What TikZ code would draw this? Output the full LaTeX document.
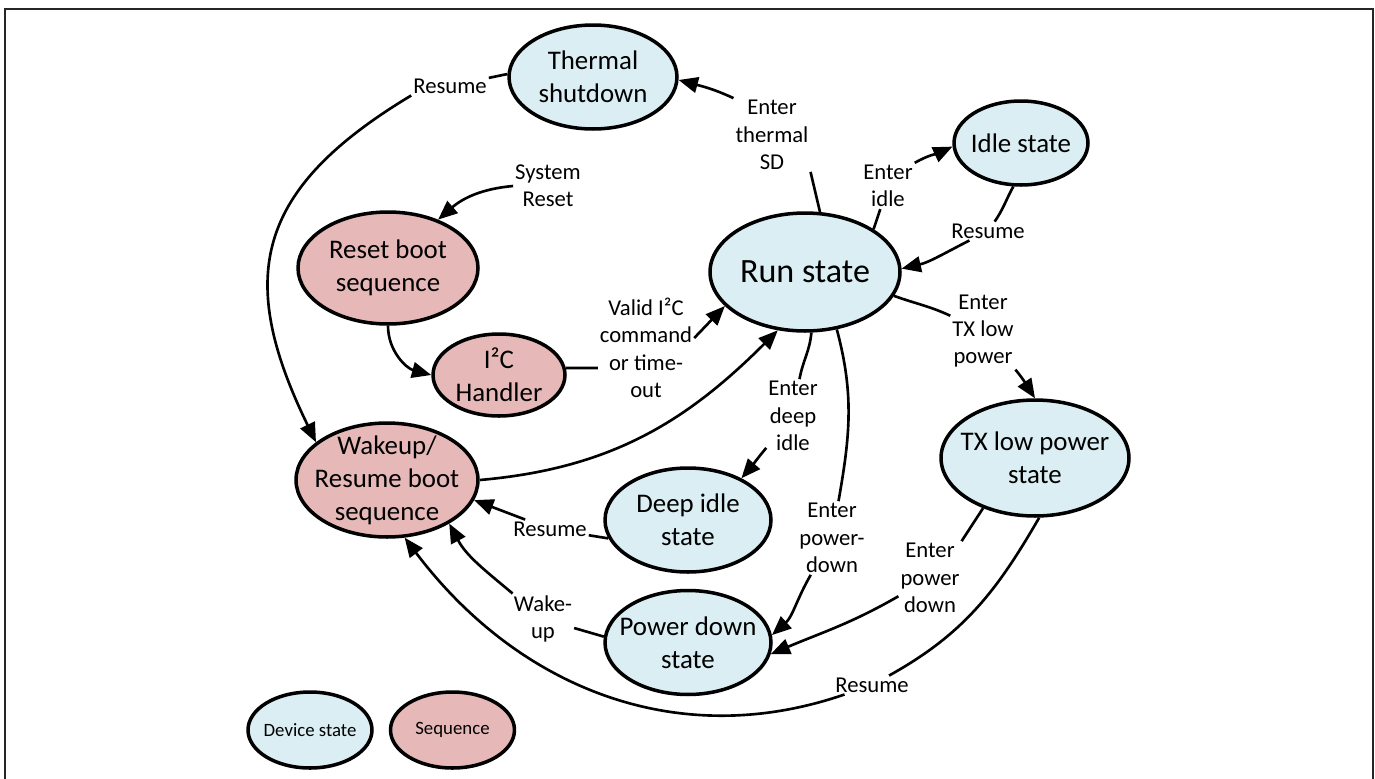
\documentclass[tikz,border=0pt]{standalone}
\usepackage{fontspec}
\setmainfont{Carlito}
\usepackage{tikz}
\usetikzlibrary{shapes,arrows.meta,calc,positioning}
\definecolor{stateblue}{HTML}{DAEEF3}
\definecolor{seqred}{HTML}{E6B9B8}
\tikzstyle{state} = [ellipse, draw, line width=2pt, fill=stateblue, inner sep=-12pt, align=center, font=\fontsize{15.3}{18.8}\selectfont]
\tikzstyle{seq} = [state, fill=seqred]
\tikzstyle{lbl} = [align=center, inner sep=1pt, font=\fontsize{12.9}{15.6}\selectfont]
\tikzstyle{line} = [draw, line width=1.5pt, -{Triangle[length=11pt,width=9pt]}]
\tikzstyle{legend} = [state, minimum width=2.48cm, minimum height=1.52cm, font=\fontsize{10.7}{13}\selectfont]

\begin{document}
\begin{tikzpicture}[x=0.02cm, y=0.02cm]
\useasboundingbox (0,0) rectangle (1375,-778);
\draw [line width=0.8pt, black!85] (5,-9) rectangle (1373,-800);

% states and sequences
\node [state, minimum width=3.36cm, minimum height=2.08cm] (thermal) at (593,-77) {Thermal\\shutdown};
\node [seq, minimum width=3.6cm, minimum height=2.24cm] (reset) at (388,-268) {Reset boot\\sequence};
\node [seq, minimum width=2.64cm, minimum height=1.64cm] (i2c) at (499,-375) {I²C\\Handler};
\node [state, minimum width=3.8cm, minimum height=2.36cm, font=\fontsize{19.4}{23}\selectfont] (run) at (805,-272) {Run state};
\node [state, minimum width=2.68cm, minimum height=1.68cm] (idle) at (1021,-143) {Idle state};
\node [state, minimum width=3.76cm, minimum height=2.32cm] (tx) at (1035,-458) {TX low power\\state};
\node [seq, minimum width=3.64cm, minimum height=2.28cm] (wakeup) at (387,-480) {Wakeup/\\Resume boot\\sequence};
\node [state, minimum width=3.32cm, minimum height=2.08cm] (deepidle) at (688,-520) {Deep idle\\state};
\node [state, minimum width=3.32cm, minimum height=2.08cm, below=0.3cm of deepidle] (powerdown) {Power down\\state};

% legend
\node [legend] (legdev) at (310,-730) {Device state};
\node [legend, fill=seqred, right=0.3cm of legdev] (legseq) {Sequence};

% edge labels
\node [lbl] (lblThRes) at (450,-86) {Resume};
\node [lbl] (lblSys) at (548,-186) {System\\Reset};
\node [lbl] (lblValid) at (646,-348) {Valid I²C\\command\\or time-\\out};
\node [lbl] (lblEnTh) at (772,-135) {Enter\\thermal\\SD};
\node [lbl] (lblEnIdle) at (888,-186) {Enter\\idle};
\node [lbl] (lblIdRes) at (988,-231) {Resume};
\node [lbl] (lblEnTX) at (983,-331) {Enter\\TX low\\power};
\node [lbl] (lblEnDeep) at (793,-416) {Enter\\deep\\idle};
\node [lbl] (lblEnPD) at (832,-538) {Enter\\power-\\down};
\node [lbl] (lblTxPD) at (930,-578) {Enter\\power\\down};
\node [lbl] (lblTxRes) at (872,-685) {Resume};
\node [lbl] (lblDpRes) at (550,-529) {Resume};
\node [lbl] (lblWake) at (543,-619) {Wake-\\up};

% transitions
\path [line] (thermal.178) -- (lblThRes) (lblThRes.south west) to[out=211,in=116,looseness=1.3] (wakeup.152);
\path [line] (lblSys.west) to[out=185,in=41] (reset.44);
\path [line] (reset.south) to[out=-90,in=165] (i2c.180);
\path [line] (i2c.6) -- (i2c.6 -| lblValid.west) ($(lblValid.east)+(0,10)$) -- (run.203);
\path [line] (run.76) -- (lblEnTh.south east) (lblEnTh.north west) to[out=155,in=-15] (thermal.-2);
\path [line] (run.32) -- (lblEnIdle) (lblEnIdle.north east) to[out=30,in=205] (idle.183);
\path [line] (idle.-100) to[out=-119,in=55] (lblIdRes) to[out=-153,in=13] (run.2);
\path [line] (run.-15) to[out=-20,in=155] (lblEnTX) to[out=-50,in=123] (tx.north);
\path [line] (run.-84) to[out=-95,in=80] (lblEnDeep) to[out=-130,in=49] (deepidle.38);
\path [line] (run.-61) to[out=-75,in=80] (lblEnPD.80) (lblEnPD) to[out=-120,in=42] (powerdown.5);
\path [line] (tx.-136) -- (lblTxPD.north east) (lblTxPD) to[out=210,in=23] (powerdown.-8);
\path [line] (tx.-86) to[out=-120,in=29] (lblTxRes) to[out=199,in=-53] (wakeup.-73);
\path [line] (wakeup.east) to[out=5,in=225] (run.-115);
\path [line] (deepidle.193) -- (lblDpRes) -- (wakeup.-13);
\path [line] (powerdown.176) -- (lblWake) to[out=140,in=-62] (wakeup.-35);

\end{tikzpicture}
\end{document}
